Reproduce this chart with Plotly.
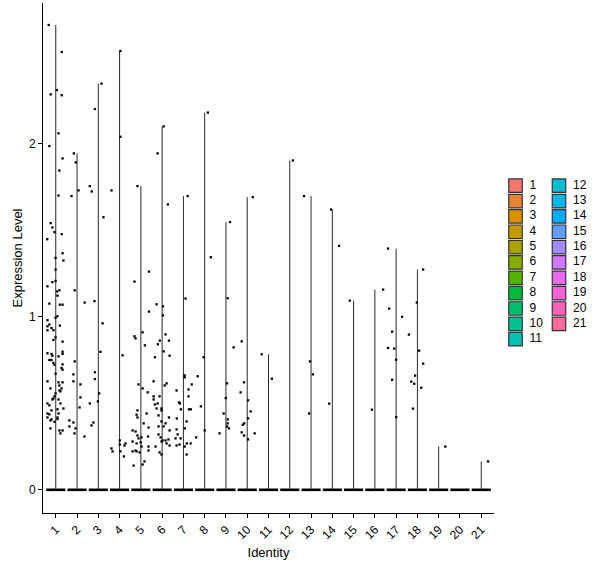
import plotly.graph_objects as go

# cluster identities and their ggplot hue colours
clusters = [str(i) for i in range(1, 22)]
cluster_colors = [
    "#F8766D", "#EB8335", "#DA8F00", "#C49A00", "#A9A300", "#86AC00", "#53B400",
    "#00BA38", "#00BE6C", "#00C094", "#00C1B2", "#00BDD4", "#00B6EB", "#00ABFD",
    "#619CFF", "#A58AFF", "#CF78FF", "#EA69EF", "#FB61D7", "#FF62BC", "#FD6C9B",
]

# non-zero expression values per cluster (zeros form the bar at 0)
expr = [
    [2.686, 2.53, 2.31, 2.285, 2.28, 2.06, 1.986, 1.915, 1.845, 1.70,
     1.541, 1.516, 1.489, 1.477, 1.448, 1.367, 1.34, 1.325, 1.273, 1.2,
     1.207, 1.176, 1.146, 1.153, 1.122, 1.076, 1.07, 1.07, 0.995, 1.003,
     0.98, 0.955, 0.945, 0.935, 0.922, 0.922, 0.949, 0.881, 0.866, 0.856,
     0.789, 0.785, 0.775, 0.771, 0.798, 0.785, 0.75, 0.75, 0.733, 0.723,
     0.725, 0.704, 0.694, 0.671, 0.627, 0.621, 0.621, 0.603, 0.586, 0.586,
     0.574, 0.569, 0.557, 0.54, 0.528, 0.522, 0.522, 0.499, 0.499, 0.488,
     0.47, 0.465, 0.459, 0.441, 0.436, 0.441, 0.418, 0.418, 0.409, 0.407,
     0.401, 0.393, 0.355, 0.343, 0.343, 0.326],
    [1.944, 1.892, 1.73, 1.697, 1.153, 1.082, 0.742, 0.667, 0.627, 0.609,
     0.534, 0.476, 0.401, 0.389, 0.366, 0.355, 0.326, 0.308],
    [2.347, 2.2, 1.755, 1.724, 1.575, 1.09, 0.962, 0.797, 0.679, 0.64,
     0.557, 0.511, 0.499, 0.389, 0.372],
    [2.536, 2.04, 1.73, 0.777, 0.285, 0.268, 0.262, 0.256, 0.239, 0.222,
     0.222, 0.193],
    [1.755, 1.261, 1.203, 1.03, 0.91, 0.887, 0.875, 0.835, 0.609, 0.586,
     0.563, 0.459, 0.441, 0.434, 0.418, 0.384, 0.36, 0.343, 0.337, 0.314,
     0.297, 0.303, 0.308, 0.274, 0.268, 0.279, 0.222, 0.222, 0.216, 0.227,
     0.25, 0.25, 0.227, 0.164, 0.146, 0.14],
    [2.10, 1.944, 1.649, 1.072, 1.06, 1.008, 0.898, 0.862, 0.862, 0.841,
     0.80, 0.775, 0.766, 0.627, 0.615, 0.603, 0.54, 0.54, 0.522, 0.499,
     0.493, 0.47, 0.459, 0.47, 0.43, 0.418, 0.395, 0.384, 0.366, 0.366,
     0.343, 0.32, 0.303, 0.285, 0.285, 0.291, 0.279, 0.268, 0.256, 0.25,
     0.216, 0.204],
    [1.697, 1.105, 0.661, 0.65, 0.609, 0.574, 0.58, 0.54, 0.505, 0.499,
     0.465, 0.465, 0.465, 0.412, 0.395, 0.349, 0.355, 0.32, 0.297, 0.297,
     0.256, 0.262, 0.268, 0.204, 0.25, 0.268],
    [2.18, 1.344, 0.766, 0.656, 0.482, 0.343, 0.303],
    [1.547, 1.107, 0.823, 0.615, 0.53, 0.441, 0.407, 0.384, 0.366, 0.355, 0.326],
    [1.691, 0.858, 0.621, 0.563, 0.517, 0.453, 0.413, 0.384, 0.376, 0.332,
     0.314, 0.326, 0.291],
    [0.783, 0.642],
    [1.903],
    [1.697, 0.742, 0.667, 0.441],
    [1.62, 1.41, 0.498],
    [1.093],
    [1.157, 0.463],
    [1.394, 1.047, 1.0, 0.914, 0.82, 0.816, 0.752, 0.636, 0.42],
    [1.273, 1.082, 0.897, 0.804, 0.729, 0.66, 0.625, 0.613, 0.59, 0.469],
    [0.25],
    [],
    [0.164],
]

# horizontal jitter of each point (in category units)
jitter = [
    [-0.33, 0.28, 0.05, -0.24, 0.28, 0.13, -0.30, 0.32, 0.17, 0.13,
     -0.24, -0.16, -0.06, 0.28, -0.40, 0.32, -0.01, 0.36, -0.01, -0.16,
     -0.01, -0.39, 0.06, 0.17, 0.08, -0.30, 0.19, 0.32, -0.01, 0.08,
     -0.39, -0.30, -0.39, -0.20, -0.39, -0.11, 0.19, -0.01, -0.11, 0.32,
     -0.39, -0.20, -0.16, 0.13, 0.32, 0.32, -0.30, -0.20, -0.11, -0.06,
     0.32, 0.27, 0.32, -0.01, -0.39, 0.13, 0.32, 0.17, -0.25, 0.27,
     0.17, 0.22, -0.01, -0.06, -0.11, -0.16, 0.13, 0.22, -0.39, -0.30,
     0.36, 0.08, -0.20, -0.39, -0.30, 0.13, -0.39, 0.08, 0.08, -0.20,
     -0.25, -0.06, -0.25, 0.17, 0.32, 0.22],
    [-0.15, -0.06, 0.07, -0.26, -0.11, 0.36, -0.11, -0.17, -0.17, 0.16,
     0.16, 0.12, -0.36, -0.17, -0.36, -0.07, -0.12, 0.35],
    [0.15, -0.16, -0.40, -0.31, 0.24, -0.18, 0.20, 0.10, -0.16, -0.16,
     0.04, -0.02, -0.40, -0.23, -0.32],
    [0.04, 0.04, -0.38, 0.14, 0.01, 0.28, 0.01, 0.23, -0.38, -0.33,
     0.04, 0.20],
    [-0.16, 0.38, -0.30, 0.38, 0.08, -0.30, -0.25, 0.19, -0.11, 0.08,
     0.32, -0.16, 0.27, -0.20, -0.16, 0.13, 0.36, -0.39, -0.25, -0.16,
     -0.11, 0.03, 0.34, -0.01, -0.20, -0.39, -0.39, -0.20, -0.06, -0.25,
     0.03, 0.36, 0.36, 0.17, 0.08, -0.34],
    [0.07, -0.21, 0.27, -0.26, 0.04, 0.04, 0.16, -0.11, 0.32, -0.20,
     0.07, 0.35, -0.34, -0.40, 0.21, 0.12, -0.40, -0.12, -0.40, -0.21,
     -0.34, -0.03, -0.03, -0.26, -0.17, 0.32, -0.03, 0.16, 0.07, -0.17,
     0.35, -0.17, -0.07, 0.02, 0.16, 0.30, -0.03, 0.21, 0.35, -0.31,
     -0.12, -0.03],
    [0.20, 0.10, 0.06, 0.06, 0.39, -0.32, 0.24, 0.24, -0.21, -0.16,
     -0.12, 0.26, 0.35, -0.31, 0.15, -0.32, 0.07, -0.27, -0.13, -0.37,
     -0.32, -0.18, 0.16, 0.15, 0.06, 0.34],
    [0.15, 0.29, -0.05, -0.33, -0.18, 0.00, -0.40],
    [0.19, 0.08, 0.36, 0.05, -0.01, -0.11, 0.08, 0.08, 0.05, 0.14, -0.30],
    [0.26, -0.26, -0.15, -0.31, 0.04, 0.16, 0.04, -0.14, -0.21, -0.26,
     -0.15, 0.35, 0.04],
    [-0.32, 0.16],
    [0.15],
    [-0.33, -0.05, 0.09, -0.09],
    [-0.06, 0.32, -0.15],
    [-0.18],
    [0.39, -0.14],
    [-0.38, -0.33, 0.28, -0.19, -0.38, -0.09, 0.00, -0.19, 0.00],
    [0.27, -0.03, -0.40, 0.08, 0.27, -0.11, -0.29, -0.15, 0.18, -0.21],
    [0.31],
    [],
    [0.32],
]

for v, j in zip(expr, jitter):
    assert len(v) == len(j)

FONT = "Liberation Sans, Arial, sans-serif"
W, H = 600, 568
L, R, T, B = 43, 0, 3, 55
PANEL_RIGHT = 494  # px where the panel ends, legend sits to the right
HALF_W = 0.45      # half width of the violin base

fig = go.Figure()

# violin bases at zero
zx, zy = [], []
for i in range(1, len(clusters) + 1):
    zx += [i - HALF_W, i + HALF_W, None]
    zy += [0, 0, None]
fig.add_trace(go.Scatter(x=zx, y=zy, mode="lines",
                         line=dict(color="black", width=2.6),
                         hoverinfo="skip", showlegend=False))

# violin bodies: collapsed to a thin line from 0 up to the max value
vx, vy = [], []
for i, vals in enumerate(expr, start=1):
    if vals:
        vx += [i, i, None]
        vy += [0, max(vals), None]
fig.add_trace(go.Scatter(x=vx, y=vy, mode="lines",
                         line=dict(color="#2a2a2a", width=1),
                         hoverinfo="skip", showlegend=False))

# jittered cells
px_, py_ = [], []
for i, (vals, jit) in enumerate(zip(expr, jitter), start=1):
    px_ += [i + d for d in jit]
    py_ += vals
fig.add_trace(go.Scatter(x=px_, y=py_, mode="markers",
                         marker=dict(symbol="square", size=2.3, color="black",
                                     line=dict(width=0)),
                         hovertemplate="%{y:.2f}<extra></extra>",
                         showlegend=False))

# legend drawn on its own pixel-scaled axes (two columns like ggplot)
n_first = 11
row_h = 15.35
leg_x = [515.5 if k < n_first else 559.0 for k in range(len(clusters))]
leg_y = [185.7 + (k if k < n_first else k - n_first) * row_h
         for k in range(len(clusters))]
fig.add_trace(go.Scatter(
    x=leg_x, y=leg_y, mode="markers", xaxis="x2", yaxis="y2",
    marker=dict(symbol="square", size=13.5, color=cluster_colors,
                line=dict(color="#333333", width=1.2)),
    hoverinfo="skip", showlegend=False))
fig.add_trace(go.Scatter(
    x=[x + 14 for x in leg_x], y=leg_y, mode="text", xaxis="x2", yaxis="y2",
    text=clusters, textposition="middle right",
    textfont=dict(family=FONT, size=12, color="black"),
    hoverinfo="skip", showlegend=False))

plot_w = W - L - R
x_dom_end = (PANEL_RIGHT - L) / plot_w

axis_common = dict(showgrid=False, zeroline=False, showline=True,
                   linecolor="black", linewidth=1, ticks="outside",
                   tickcolor="black", tickwidth=1, ticklen=4,
                   tickfont=dict(family=FONT, size=12, color="black"))

fig.update_layout(
    width=W, height=H,
    margin=dict(l=L, r=R, t=T, b=B),
    paper_bgcolor="white", plot_bgcolor="white",
    font=dict(family=FONT, size=12, color="black"),
    showlegend=False,
    xaxis=dict(domain=[0, x_dom_end], range=[0.4, 21.6],
               tickvals=list(range(1, len(clusters) + 1)), ticktext=clusters,
               tickangle=-45,
               title=dict(text="Identity", font=dict(family=FONT, size=13),
                          standoff=6),
               **axis_common),
    yaxis=dict(range=[-0.134, 2.813], tickvals=[0, 1, 2],
               title=dict(text="Expression Level",
                          font=dict(family=FONT, size=13), standoff=3),
               **axis_common),
    xaxis2=dict(domain=[x_dom_end, 1], range=[PANEL_RIGHT, W], anchor="y2",
                visible=False, fixedrange=True),
    yaxis2=dict(domain=[0, 1], range=[H - B, T], anchor="x2",
                visible=False, fixedrange=True),
)

fig.write_html("out.html", config={"displayModeBar": False},
               post_script="document.body.style.margin='0';")
